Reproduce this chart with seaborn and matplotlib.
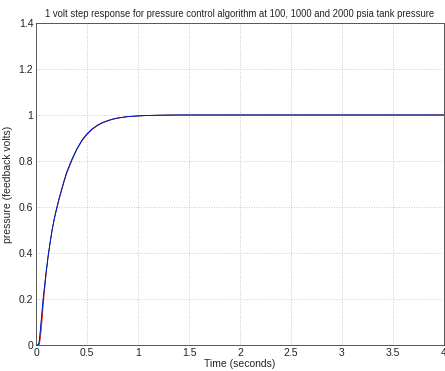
import matplotlib
matplotlib.use("Agg")
import matplotlib.pyplot as plt
import seaborn as sns
import pandas as pd

time_s = [0.0, 0.02, 0.03, 0.04, 0.05, 0.06, 0.07, 0.08, 0.10, 0.12, 0.14, 0.16, 0.18,
          0.20, 0.225, 0.25, 0.275, 0.30, 0.35, 0.40, 0.45, 0.50, 0.55, 0.60, 0.65,
          0.70, 0.75, 0.80, 0.90, 1.00, 1.10, 1.20, 1.40, 2.00, 4.00]
p_100 = [0.0, 0.0, 0.0, 0.02, 0.06, 0.11, 0.17, 0.22, 0.31, 0.39, 0.45, 0.505, 0.55,
         0.585, 0.63, 0.67, 0.71, 0.745, 0.80, 0.85, 0.887, 0.915, 0.937, 0.953, 0.965,
         0.974, 0.981, 0.986, 0.993, 0.996, 0.998, 0.999, 1.0, 1.0, 1.0]
p_1000 = [0.0, 0.0, 0.01, 0.05, 0.10, 0.15, 0.20, 0.24, 0.32, 0.39, 0.45, 0.505, 0.55,
          0.59, 0.635, 0.675, 0.713, 0.75, 0.805, 0.852, 0.89, 0.918, 0.939, 0.955, 0.967,
          0.975, 0.982, 0.987, 0.993, 0.996, 0.998, 0.999, 1.0, 1.0, 1.0]
p_2000 = [0.0, 0.0, 0.01, 0.05, 0.10, 0.15, 0.20, 0.24, 0.32, 0.39, 0.45, 0.505, 0.55,
          0.59, 0.635, 0.675, 0.713, 0.75, 0.805, 0.852, 0.89, 0.918, 0.939, 0.955, 0.967,
          0.975, 0.982, 0.987, 0.993, 0.996, 0.998, 0.999, 1.0, 1.0, 1.0]
series_names = ["100 psia", "1000 psia", "2000 psia"]
series_colors = ["#ff0000", "#00a000", "#0000ff"]

x_ticks = [0, 0.5, 1, 1.5, 2, 2.5, 3, 3.5, 4]
x_tick_labels = ["0", "0.5", "1", "1.5", "2", "2.5", "3", "3.5", "4"]
y_ticks = [0, 0.2, 0.4, 0.6, 0.8, 1.0, 1.2, 1.4]
y_tick_labels = ["0", "0.2", "0.4", "0.6", "0.8", "1", "1.2", "1.4"]

title = "1 volt step response for pressure control algorithm at 100, 1000 and 2000 psia tank pressure"
xlabel = "Time (seconds)"
ylabel = "pressure (feedback volts)"

rows = []
for name, vals in zip(series_names, [p_100, p_1000, p_2000]):
    for t, v in zip(time_s, vals):
        rows.append({"t": t, "p": v, "series": name})
df = pd.DataFrame(rows)

sns.set_theme(style="white")
plt.rcParams["font.family"] = ["Liberation Sans", "DejaVu Sans"]

fig = plt.figure(figsize=(4.45, 3.71), dpi=100)
ax = fig.add_axes([36 / 445, 1 - 345 / 371, 408 / 445, 322 / 371])

sns.lineplot(data=df, x="t", y="p", hue="series", palette=series_colors,
             hue_order=series_names, ax=ax, linewidth=0.6, legend=False,
             estimator=None, sort=False)

ax.set_xlim(0, 4)
ax.set_ylim(0, 1.4)
ax.set_xticks(x_ticks)
ax.set_xticklabels(x_tick_labels)
ax.set_yticks(y_ticks)
ax.set_yticklabels(y_tick_labels)
ax.grid(True, color="#b8b8b8", linestyle=(0, (1, 2)), linewidth=0.6)
ax.tick_params(direction="in", length=3, width=0.6, labelsize=7.5, colors="#222222",
               pad=2)
for s in ax.spines.values():
    s.set_color("#555555")
    s.set_linewidth(0.7)
    s.set_visible(True)

ax.set_title(title, fontsize=6.85, pad=4)
ax.set_xlabel(xlabel, fontsize=7.5, labelpad=1)
ax.set_ylabel(ylabel, fontsize=7.5, labelpad=4)

fig.savefig("out.png", dpi=100)
